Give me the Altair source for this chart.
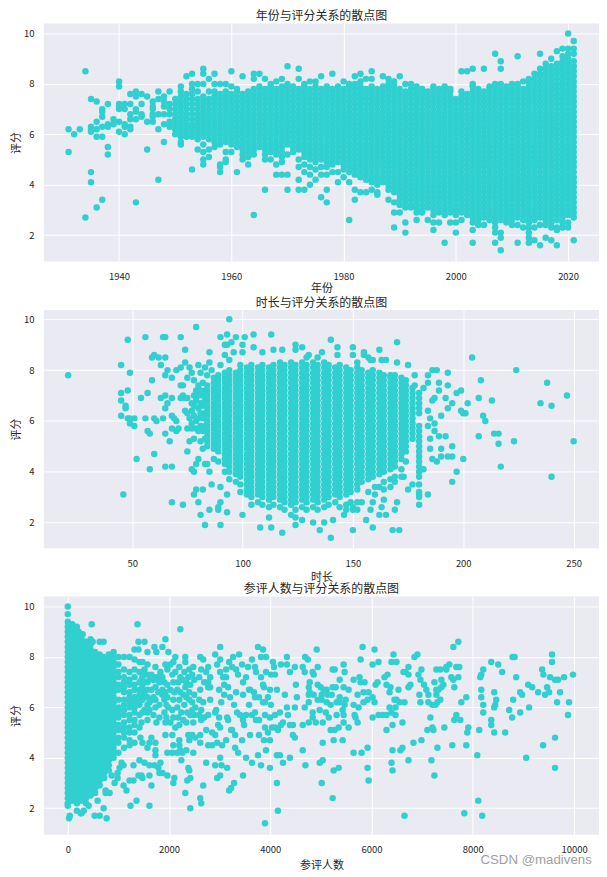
import altair as alt
import pandas as pd

# Inside the saturated blobs single dots cannot be told apart, so those columns are estimates.
year_rating = [
(1931,[62,53]),(1932,[60]),(1933,[62]),(1934,[85,27]),(1935,[74,63,62,61,45,41]),
(1936,[73,65,62,59,31]),(1937,[70,69,67,63,59,34]),(1938,[72,64,63,55,52]),(1939,[66,64]),
(1940,[81,79,72,71,70,65,61]),(1941,[72,70,64,63,60]),(1942,[76,72,68,66,63,62]),
(1943,[77,75,70,69,66,33]),(1944,[76,72,68,67]),(1945,[75,65,54]),(1946,[73,71,70,68,67,65]),
(1947,[77,74,68,62,42]),(1948,[75,73,71,68,64,57]),(1949,[77,72,70,68,65,63]),
(1950,[74,72,70,68,66,64,62,60]),(1951,[79,77,75,73,71,69,67,65,63,61,59,57,56]),
(1952,[83,76,74,72,70,68,66,64,62,60,59]),(1953,[84,80,78,76,74,72,70,68,66,64,63,61,59,46]),
(1954,[80,77,74,72,70,68,66,64,62,60,58,54]),(1955,[86,84,80,75,73,71,69,67,65,63,61,59,56,53,50,48]),
(1956,[82,77,74,72,70,68,66,64,62,60,58,54,51]),(1957,[84,80,77,75,73,71,69,67,65,63,61,59,57,55]),
(1958,[80,76,74,72,70,68,66,64,62,60,58,56,48,47,45]),(1959,[80,77,75,73,71,69,67,65,63,61,59,57,53,50,49]),
(1960,[85,79,76,74,72,70,68,66,64,62,60,58,56,53]),(1961,[78,77,75,73,71,69,67,65,63,61,59,57,55,45]),
(1962,[83,76,74,72,70,68,66,64,62,60,58,56,54,52,50]),
(1963,[77,75,73,71,69,67,65,63,61,59,57,55,53,51,48]),
(1964,[84,82,78,76,74,72,70,68,66,64,62,60,58,56,54,52,28]),
(1965,[84,79,77,75,73,71,69,67,65,63,61,59,57,55]),
(1966,[82,78,76,74,72,70,68,66,64,62,60,58,56,54,52,50,38]),
(1967,[80,79,77,75,73,71,69,67,65,63,61,59,57,55,53,50]),
(1968,[81,78,76,74,72,70,68,66,64,62,60,58,56,54,52,48,44]),
(1969,[82,79,77,75,73,71,69,67,65,63,61,59,57,55,53,51,49,44]),
(1970,[87,80,78,76,74,72,70,68,66,64,62,60,58,56,52,44,38]),
(1971,[79,77,75,73,71,69,67,65,63,61,59,57,55,53]),
(1972,[86,82,78,76,74,72,70,68,66,64,62,60,58,56,54,50,47,42,38]),
(1973,[80,79,77,75,73,71,69,67,65,63,61,59,57,55,53,51,48,45,38]),
(1974,[81,78,76,74,72,70,68,66,64,62,60,58,56,54,52,50,47,44,40]),
(1975,[81,79,77,75,73,71,69,67,65,63,61,59,57,55,53,51,49,46,42]),
(1976,[83,78,76,74,72,70,68,66,64,62,60,58,56,54,52,50,47,44,35]),
(1977,[79,77,75,73,71,69,67,65,63,61,59,57,55,53,51,49,47,44,38,33]),
(1978,[84,78,76,74,72,70,68,66,64,62,60,58,56,54,52,50,48,45]),
(1979,[79,77,75,73,71,69,67,65,63,61,59,57,55,53,51,49,45,41]),
(1980,[81,78,76,74,72,70,68,66,64,62,60,58,56,54,52,50,48,46,43]),
(1981,[80,79,77,75,73,71,69,67,65,63,61,59,57,55,53,51,49,47,45,41,26]),
(1982,[83,80,78,76,74,72,70,68,66,64,62,60,58,56,54,52,50,48,46,44,38,34]),
(1983,[84,81,79,77,75,73,71,69,67,65,63,61,59,57,55,53,51,49,47,45,43,37]),
(1984,[82,78,76,74,72,70,68,66,64,62,60,58,56,54,52,50,48,46,44,42,37]),
(1985,[85,82,79,77,75,73,71,69,67,65,63,61,59,57,55,53,51,49,47,45,43,41,38]),
(1986,[78,76,74,72,70,68,66,64,62,60,58,56,54,52,50,48,46,44,42,40,37,36]),
(1987,[83,79,77,75,73,71,69,67,65,63,61,59,57,55,53,51,49,47,45,43,41]),
(1988,[82,80,78,76,74,72,70,68,66,64,62,60,58,56,54,52,50,48,46,44,42,40,38,34]),
(1989,[81,79,77,75,73,71,69,67,65,63,61,59,57,55,53,51,49,47,45,43,41,39,37,33,29,23]),
(1990,[83,78,76,74,72,70,68,66,64,62,60,58,56,54,52,50,48,46,44,42,40,38,36,34,32,29]),
(1991,[80,77,75,73,71,69,67,65,63,61,59,57,55,53,51,49,47,45,43,41,39,37,35,33,31,25,21]),
(1992,[80,78,76,74,72,70,68,66,64,62,60,58,56,54,52,50,48,46,44,42,40,38,36,34,32,31]),
(1993,[79,77,75,73,71,69,67,65,63,61,59,57,55,53,51,49,47,45,43,41,39,37,35,33,31,29,26]),
(1994,[78,76,74,72,70,68,66,64,62,60,58,56,54,52,50,48,46,44,42,40,38,36,34,32,30,29]),
(1995,[77,75,73,71,69,67,65,63,61,59,57,55,53,51,49,47,45,43,41,39,37,35,33,31,26]),
(1996,[79,78,76,74,72,70,68,66,64,62,60,58,56,54,52,50,48,46,44,42,40,38,36,34,32,30,28,25,22]),
(1997,[78,77,75,73,71,69,67,65,63,61,59,57,55,53,51,49,47,45,43,41,39,37,35,33,31,29,25]),
(1998,[79,78,76,74,72,70,68,66,64,62,60,58,56,54,52,50,48,46,44,42,40,38,36,34,32,30,28,17]),
(1999,[78,77,75,73,71,69,67,65,63,61,59,57,55,53,51,49,47,45,43,41,39,37,35,33,31,29,25]),
(2000,[74,72,70,68,66,64,62,60,58,56,54,52,50,48,46,44,42,40,38,36,34,32,30,28,25,21]),
(2001,[85,77,75,73,71,69,67,65,63,61,59,57,55,53,51,49,47,45,43,41,39,37,35,33,31,29,26]),
(2002,[85,76,74,72,70,68,66,64,62,60,58,56,54,52,50,48,46,44,42,40,38,36,34,32,30,28]),
(2003,[86,80,79,77,75,73,71,69,67,65,63,61,59,57,55,53,51,49,47,45,43,41,39,37,35,33,31,29,27,25,22,17]),
(2004,[78,76,74,72,70,68,66,64,62,60,58,56,54,52,50,48,46,44,42,40,38,36,34,32,30,28,26,24]),
(2005,[86,77,75,73,71,69,67,65,63,61,59,57,55,53,51,49,47,45,43,41,39,37,35,33,31,29,27,24]),
(2006,[79,78,76,74,72,70,68,66,64,62,60,58,56,54,52,50,48,46,44,42,40,38,36,34,32,30,28,26]),
(2007,[92,80,79,77,75,73,71,69,67,65,63,61,59,57,55,53,51,49,47,45,43,41,39,37,35,33,31,29,27,25,23,21,17]),
(2008,[89,86,80,78,76,74,72,70,68,66,64,62,60,58,56,54,52,50,48,46,44,42,40,38,36,34,32,30,28,26,21,19,14]),
(2009,[79,77,75,73,71,69,67,65,63,61,59,57,55,53,51,49,47,45,43,41,39,37,35,33,31,29,27,25]),
(2010,[80,78,76,74,72,70,68,66,64,62,60,58,56,54,52,50,48,46,44,42,40,38,36,34,32,30,28,26,24]),
(2011,[91,80,79,77,75,73,71,69,67,65,63,61,59,57,55,53,51,49,47,45,43,41,39,37,35,33,31,29,27,24,17]),
(2012,[81,78,76,74,72,70,68,66,64,62,60,58,56,54,52,50,48,46,44,42,40,38,36,34,32,30,28,26,23]),
(2013,[82,81,79,77,75,73,71,69,67,65,63,61,59,57,55,53,51,49,47,45,43,41,39,37,35,33,31,29,27,25,23,21,19,17]),
(2014,[84,82,80,78,76,74,72,70,68,66,64,62,60,58,56,54,52,50,48,46,44,42,40,38,36,34,32,30,28,26,23,18]),
(2015,[92,86,84,83,81,79,77,75,73,71,69,67,65,63,61,59,57,55,53,51,49,47,45,43,41,39,37,35,33,31,29,27,24,16]),
(2016,[88,86,84,82,80,78,76,74,72,70,68,66,64,62,60,58,56,54,52,50,48,46,44,42,40,38,36,34,32,30,28,26,24,19]),
(2017,[90,87,85,83,81,79,77,75,73,71,69,67,65,63,61,59,57,55,53,51,49,47,45,43,41,39,37,35,33,31,29,27,25,23,18]),
(2018,[93,88,86,84,82,80,78,76,74,72,70,68,66,64,62,60,58,56,54,52,50,48,46,44,42,40,38,36,34,32,30,28,26,23,22,16]),
(2019,[94,91,89,87,85,83,81,79,77,75,73,71,69,67,65,63,61,59,57,55,53,51,49,47,45,43,41,39,37,35,33,31,29,27,25,23]),
(2020,[100,94,92,90,88,86,84,82,80,78,76,74,72,70,68,66,64,62,60,58,56,54,52,50,48,46,44,42,40,38,36,34,32,30,28,25,23]),
(2021,[97,94,92,89,87,85,83,81,79,77,75,73,71,69,67,65,63,61,59,57,55,53,51,49,47,45,43,41,39,37,35,33,31,29,27,18]),
]

runtime_rating = [
(21,[78]),(45,[82,71,68,62]),(46,[31]),(47,[66,65]),(48,[92,72,61]),(49,[79,61,59]),(51,[61,58]),(52,[45]),
(54,[69]),(56,[93,61]),(57,[71,56]),(58,[55,41]),(59,[85,76]),(60,[86,61,47]),(61,[60]),(62,[85]),
(63,[82,69]),(64,[93,61]),(65,[93,85,78,70,65,55,42]),(66,[80,67]),(67,[52]),(68,[77,69,62,57,42,28]),
(69,[61]),(70,[80,60,56]),(71,[57]),(72,[93,81,74,69]),(73,[74,70,27]),(74,[88,83,69,64]),(75,[77,69,63,57,48]),
(76,[81,61,52]),(77,[79,67,64,59,57,41]),(78,[76,70,66,62,53,40,31]),(79,[97,72,68,60,57,43,33]),
(80,[82,74,70,65,61,56,45,28]),(81,[79,72,67,63,58,52,23]),
(82,[75,70,66,61,56,49,33]),(83,[81,72,68,63,58,53,43,19]),(84,[78,74,72,70,68,66,64,62,60,58,56,54,52,50,43]),(85,[87,83,40,25]),(86,[80,35]),
(87,[77,75,73,71,69,67,65,63,61,59,57,55,53,51,49,45]),(89,[78,76,74,72,70,68,66,64,62,60,58,56,54,52,50,48,44,26,25]),
(90,[93,82,34,28,19]),(92,[90,86,79,77,75,73,71,69,67,65,63,61,59,57,55,53,51,49,47,45,43,40]),(93,[94,90,31,24]),
(94,[100,84,80,78,76,74,72,70,68,66,64,62,60,58,56,54,52,50,48,46,44,42,40,37]),(95,[91]),(96,[87]),
(97,[93,79,77,75,73,71,69,67,65,63,61,59,57,55,53,51,49,47,45,43,41,39,36]),
(99,[82,80,78,76,74,72,70,68,66,64,62,60,58,56,54,52,50,48,46,44,42,40,38,35,32]),(100,[90,87,23]),(101,[93]),
(102,[81,79,77,75,73,71,69,67,65,63,61,59,57,55,53,51,49,47,45,43,41,39,37,35,33,31]),
(104,[82,80,78,76,74,72,70,68,66,64,62,60,58,56,54,52,50,48,46,44,42,40,38,36,34,32,30,27]),(105,[94,89]),
(107,[81,79,77,75,73,71,69,67,65,63,61,59,57,55,53,51,49,47,45,43,41,39,37,35,33,31,28]),(108,[18]),
(109,[87,82,80,78,76,74,72,70,68,66,64,62,60,58,56,54,52,50,48,46,44,42,40,38,36,34,32,30,27]),
(112,[81,79,77,75,73,71,69,67,65,63,61,59,57,55,53,51,49,47,45,43,41,39,37,35,33,31,29,26,22]),(113,[94,18]),
(114,[88,82,80,78,76,74,72,70,68,66,64,62,60,58,56,54,52,50,48,46,44,42,40,38,36,34,32,30,27]),
(117,[83,81,79,77,75,73,71,69,67,65,63,61,59,57,55,53,51,49,47,45,43,41,39,37,35,33,31,29,26]),(118,[88,16]),
(119,[82,80,78,76,74,72,70,68,66,64,62,60,58,56,54,52,50,48,46,44,42,40,38,36,34,32,30,28,25]),
(122,[83,81,79,77,75,73,71,69,67,65,63,61,59,57,55,53,51,49,47,45,43,41,39,37,35,33,31,29,27,23]),
(124,[90,88,82,80,78,76,74,72,70,68,66,64,62,60,58,56,54,52,50,48,46,44,42,40,38,36,34,32,30,28,25,22,19]),
(127,[89,83,81,79,77,75,73,71,69,67,65,63,61,59,57,55,53,51,49,47,45,43,41,39,37,35,33,31,29,26,21]),
(129,[85,82,80,78,76,74,72,70,68,66,64,62,60,58,56,54,52,50,48,46,44,42,40,38,36,34,32,30,28,25]),(130,[86]),
(132,[83,81,79,77,75,73,71,69,67,65,63,61,59,57,55,53,51,49,47,45,43,41,39,37,35,33,31,29,26,20]),
(134,[85,82,80,78,76,74,72,70,68,66,64,62,60,58,56,54,52,50,48,46,44,42,40,38,36,34,32,30,28,25]),(135,[17]),(136,[87]),
(137,[83,81,79,77,75,73,71,69,67,65,63,61,59,57,55,53,51,49,47,45,43,41,39,37,35,33,31,29,26,20]),
(139,[82,80,78,76,74,72,70,68,66,64,62,60,58,56,54,52,50,48,46,44,42,40,38,36,34,32,30,27]),(140,[92,14]),(141,[21]),
(142,[81,79,77,75,73,71,69,67,65,63,61,59,57,55,53,51,49,47,45,43,41,39,37,35,33,31,28]),(143,[89,86]),
(144,[82,80,78,76,74,72,70,68,66,64,62,60,58,56,54,52,50,48,46,44,42,40,38,36,34,32,30,26]),(146,[23]),
(147,[81,79,77,75,73,71,69,67,65,63,61,59,57,55,53,51,49,47,45,43,41,39,37,35,33,31,27,25]),
(149,[80,78,76,74,72,70,68,66,64,62,60,58,56,54,52,50,48,46,44,42,40,38,36,34,32,28]),(150,[89,86,17,26,25]),
(152,[83,81,79,77,75,73,71,69,67,65,63,61,59,57,55,53,51,49,47,45,43,41,39,37,35,33,28,25]),
(154,[80,78,76,74,72,70,68,66,64,62,60,58,56,54,52,50,48,46,44,42,40,38,36,28]),(155,[87,86]),(156,[21]),
(157,[85,79,77,75,73,71,69,67,65,63,61,59,57,55,53,51,49,47,45,43,41,39,37,32]),(158,[84,25]),
(159,[84,80,78,76,74,72,70,68,66,64,62,60,58,56,54,52,50,48,46,44,42,40,38,28,18]),(160,[34,31]),
(162,[88,79,77,75,73,71,69,67,65,63,61,59,57,55,53,51,49,47,45,43,41,39,34,23]),(163,[84,26]),
(164,[78,76,74,72,70,68,66,64,62,60,58,56,54,52,50,48,46,44,42,40,36,33,29]),(165,[84,23]),
(167,[78,77,75,73,71,69,67,65,63,61,59,57,55,53,51,49,47,45,43,41,37,34]),(168,[17]),
(169,[78,76,74,72,70,68,66,64,62,60,58,56,54,52,50,48,46,44,42,38,36,25]),(170,[91,83,28]),(171,[17]),
(172,[77,75,73,71,69,67,65,63,61,59,57,55,53,51,49,47,45,41,38]),(173,[38]),
(174,[76,74,72,70,68,66,64,62,60,58,56,54,52,50,48,44]),(175,[82,33]),(177,[73,71,69,67,65,63,61,59,57,55,53,35]),
(178,[78,74]),(180,[71,69,67,65,63,58,56,54,52,50,48,46,44,42,40,38,35,32,31,30,27]),
(182,[73,41]),(184,[78,75,64,58,31]),(185,[61,53,49]),(186,[80,68,45]),(187,[69,59,56]),(188,[80,44]),
(189,[75,72,54]),(190,[62,49,46]),(192,[69,54]),(193,[79,74,65,46]),(195,[67,50,46,36]),(197,[71,40]),
(199,[72,64]),(200,[63,45]),(201,[63]),(202,[67]),(204,[85]),(207,[69,54]),(208,[76]),(209,[62]),(210,[60]),
(213,[68]),(214,[55]),(216,[55,51]),(217,[42]),(223,[52]),(224,[80]),(235,[67]),(238,[75]),(240,[66,38]),
(247,[70]),(250,[52]),
]

voters_rating = [
(0,[100,97,94,92,90,88,86,84,82,80,78,76,74,72,70,68,66,64,62,60,58,56,54,52,50,48,46,44,42,40,38,36,34,32,30,28,26,24,22,21]),
(26,[16]),(39,[17]),
(90,[93,91,89,87,85,83,81,79,77,75,73,71,69,67,65,63,61,59,57,55,53,51,49,47,45,43,41,39,37,35,33,31,29,27,25,23]),
(180,[92,90,88,86,84,82,80,78,76,74,72,70,68,66,64,62,60,58,56,54,52,50,48,46,44,42,40,38,36,34,32,30,28,26,24,22,19]),
(216,[90]),(256,[18]),
(270,[89,87,85,83,81,79,77,75,73,71,69,67,65,63,61,59,57,55,53,51,49,47,45,43,41,39,37,35,33,31,29,27,25,23,18]),
(295,[89]),(315,[19]),(334,[86]),
(360,[86,84,82,80,78,76,74,72,70,68,66,64,62,60,58,56,54,52,50,48,46,44,42,40,38,36,34,32,30,28,26,24,22]),
(413,[21]),(450,[87,85,83,81,79,77,75,73,71,69,67,65,63,61,59,57,55,53,51,49,47,45,43,41,39,37,35,33,31,29,27,25]),
(472,[93]),(492,[86]),(531,[17]),
(540,[82,80,78,76,74,72,70,68,66,64,62,60,58,56,54,52,50,48,46,44,42,40,38,36,34,32,30,28,26]),(590,[23]),
(630,[86,81,79,77,75,73,71,69,67,65,63,61,59,57,55,53,51,49,47,45,43,41,39,37,35,33,31,29,17]),
(708,[86,80,20]),(720,[78,76,74,72,70,68,66,64,62,60,58,56,54,52,50,48,46,44,42,40,38,36,34,32]),
(748,[27,26]),(767,[16]),(810,[81,79,77,75,73,71,69,67,65,63,61,59,57,55,53,51,49,47,45,43,41,39,37,35]),(826,[26]),
(865,[33]),(905,[82,80,78,76,74,72,70,68,66,64,62,60,58,56,54,52,50,48,46,44,42,40]),(925,[30]),(984,[34,32]),
(1000,[80,77,74,72,69,67,63,60,58,56,53,51,48,46,42]),(1023,[36]),(1062,[38]),(1102,[37,29]),
(1110,[80,75,72,70,68,66,63,61,59,57,54,52,50,48,44]),(1160,[27]),(1220,[80,74,71,69,66,64,62,60,57,55,52,50,47,45,31]),(1239,[21]),
(1298,[37,31]),(1318,[83,79,75,72,69,67,64,62,60,58,55,53,50,46]),(1357,[23]),(1377,[93]),(1396,[86,83,33]),
(1416,[78,74,70,67,65,63,61,57,52,39]),(1436,[48]),(1456,[71,54,33]),(1475,[78,74,72,69,67,63,58,46,32]),(1515,[86,75,70,65,59,38]),
(1574,[82,77,73,70,67,64,61,58,55,44]),(1613,[71,62,59,46,37,33,21]),(1652,[73,67,63,48,29]),(1692,[71,64,57]),(1711,[84,71,37]),
(1731,[76,68,63,60,46,43,41]),(1751,[82,72,54]),(1790,[72,66,36]),(1810,[70,61,56,34]),(1830,[74,38]),(1869,[84,72,67,65,34]),
(1908,[70,63,58]),(1928,[87,77,66,54,49]),(1948,[61,56]),(1967,[75,69,64,42,33]),(1987,[82,60]),(2026,[77,67,54]),
(2065,[73,59,49,42]),(2085,[78,70,63,56,45,30]),(2105,[32,66]),(2125,[80,74,52]),(2164,[67,60,42]),(2184,[70,56]),
(2203,[76,63,53,47,45]),(2223,[91,72,66,43]),(2243,[39,58]),(2262,[71,42]),(2282,[65,55]),(2302,[74,61]),(2321,[80,78,68,26]),
(2341,[70,64,54,43]),(2360,[58,31]),(2380,[72,49,36]),(2400,[75,66,63,47,35]),(2420,[69,57,32,20]),(2459,[73,62,59,49]),
(2479,[76,54,42]),(2498,[71,65,57]),(2518,[48,60]),(2597,[72,63,57]),(2616,[80,67,49,46,24]),(2636,[75,59,55,22]),
(2675,[79,62,29]),(2695,[70,56]),(2734,[74,51,38]),(2774,[76,70,68,57,45]),(2813,[72,68,63]),(2852,[50,45]),
(2911,[81,58,49,37]),(2931,[59]),(2951,[77,46,32]),(2970,[53]),(2990,[67,56]),(3010,[84,79,74,52,40,33]),
(3030,[62]),(3036,[37]),(3049,[45]),(3069,[72]),(3089,[69,65]),(3128,[75,72,47]),(3148,[56,36]),
(3167,[68,55]),(3187,[78,27]),(3207,[64]),(3226,[51,28]),(3246,[76,51]),(3265,[80]),(3285,[61,30]),
(3305,[49,44]),(3325,[75,66]),(3344,[58]),(3364,[73,42]),(3384,[81]),(3403,[57]),(3443,[77,47]),
(3462,[70,65,55,33]),(3482,[53]),(3521,[72,57,40]),(3561,[76]),(3580,[67,61]),(3600,[67,49]),
(3639,[79,57,38]),(3678,[66]),(3698,[76,64,58]),(3718,[74,55]),(3757,[84,41]),(3777,[64,55,49]),
(3816,[80,72,37]),(3856,[83,69,62]),(3875,[68,47]),(3895,[62,57,52,14]),(3915,[80,74,43]),(3954,[64,50]),
(3993,[67,56,47,36]),(4013,[73,61]),(4033,[52]),(4052,[78]),(4072,[76]),(4092,[73,57,52]),(4131,[67,41,30]),
(4150,[51,19]),(4190,[58,41]),(4210,[77,53]),(4250,[54,38]),(4288,[65]),(4328,[80,77,60]),(4348,[57]),
(4387,[74,53,40]),(4446,[53,49]),(4485,[76,60,48]),(4505,[69]),(4525,[64]),
(4640,[76,53,43]),(4680,[74,60]),(4687,[80]),(4694,[37]),(4740,[79]),(4760,[68,65,62,54]),(4778,[70,66]),
(4837,[74]),(4838,[58,56]),(4857,[73,65]),(4897,[54]),(4917,[83]),(4936,[76,69,63]),(4975,[59]),(4976,[38]),
(4995,[68]),(5015,[65,63,30]),(5035,[54,46,39]),(5054,[67]),(5096,[58]),(5113,[67,62]),(5133,[65]),(5154,[56]),
(5192,[61,51]),(5212,[65]),(5232,[75,68,24]),(5251,[47,35]),(5271,[75,51]),(5291,[68]),(5310,[62,57]),
(5350,[52,36]),(5370,[71,64,62]),(5429,[59,47]),(5448,[77,68,57,54]),(5468,[74,61]),(5488,[63]),(5547,[67,52]),
(5645,[71,61,42]),(5665,[57]),(5684,[56]),(5724,[65,54]),(5744,[60]),(5763,[72]),(5783,[79,70]),(5803,[42]),
(5823,[84]),(5841,[66,62]),(5861,[70]),(5921,[63,44,36]),(5941,[66,31]),(6020,[77,64,56]),(6059,[83,62]),
(6079,[69]),(6118,[70]),(6138,[78,57]),(6217,[57]),(6256,[72]),(6295,[69,57,51]),(6315,[73]),(6355,[66,60]),
(6374,[68]),(6394,[78,58,38]),(6414,[53,43,35]),(6433,[81]),(6453,[63]),(6473,[60,57]),(6492,[78,63]),
(6532,[67]),(6552,[62]),(6571,[43]),(6611,[54,44]),(6630,[74]),(6650,[62,17]),(6670,[74]),(6729,[76,73,68,39]),
(6768,[69]),(6827,[46]),(6847,[80]),(6906,[81]),(6926,[73]),(6945,[65]),(6965,[71,62]),(6985,[75,47]),
(7037,[69]),(7083,[67]),(7103,[51]),(7123,[65,62]),(7162,[56]),(7182,[39]),(7202,[61,52]),(7221,[51]),
(7241,[70,33]),(7261,[61]),(7280,[75,67,65]),(7300,[62,44]),(7320,[67]),(7359,[75,63]),(7379,[71,68]),
(7418,[69]),(7438,[52]),(7477,[76,75]),(7536,[77]),(7576,[72]),(7595,[45]),(7615,[84,71]),(7634,[68,55]),
(7674,[76,57]),(7714,[86,72]),(7733,[76]),(7753,[55]),(7773,[62]),(7832,[18]),(7871,[64,45]),(7891,[50]),
(7911,[52]),(8088,[41]),(8108,[23]),(8127,[51]),(8147,[72]),(8167,[73,67,64]),(8186,[17]),(8206,[75,61,58]),
(8364,[78,55,53]),(8423,[66,60,50]),(8443,[61]),(8462,[63]),(8502,[77]),(8580,[74]),(8640,[50]),(8718,[59]),
(8777,[56]),(8784,[80]),(8797,[63]),(8825,[80]),(8856,[72]),(8935,[66,58]),(8974,[65]),(9054,[40]),(9093,[69]),
(9112,[60]),(9172,[68]),(9290,[66]),(9370,[75]),(9388,[45]),(9394,[73]),(9427,[65]),(9467,[68]),(9506,[66]),
(9526,[72]),(9565,[81,78]),(9624,[71,48,36]),(9664,[62]),(9683,[71]),(9723,[66]),(9802,[72]),(9880,[57]),
(9900,[62]),(9979,[73]),
]

year_ticks = [1940, 1960, 1980, 2000, 2020]
runtime_ticks = [50, 100, 150, 200, 250]
voter_ticks = [0, 2000, 4000, 6000, 8000, 10000]
rating_ticks = [2, 4, 6, 8, 10]

DOT = "#30D0D0"
INK = "#262626"
CJK = "Noto Sans CJK SC"


def table(columns):
    return pd.DataFrame(
        [{"x": x, "y": r / 10} for x, rs in columns for r in rs]
    )


def panel(columns, title, xtitle, domain, ticks, ydomain, pad):
    return (
        alt.Chart(table(columns))
        .mark_circle(size=42, opacity=1, color=DOT)
        .encode(
            x=alt.X(
                "x:Q",
                title=xtitle,
                scale=alt.Scale(domain=domain, nice=False, zero=False),
                axis=alt.Axis(values=ticks, format="d", titlePadding=pad),
            ),
            y=alt.Y(
                "y:Q",
                title="评分",
                scale=alt.Scale(domain=ydomain, nice=False, zero=False),
                axis=alt.Axis(values=rating_ticks),
            ),
        )
        .properties(
            width=557,
            height=239,
            title=alt.TitleParams(title, fontSize=12, fontWeight="normal", font=CJK, color=INK, offset=0),
        )
    )


top = panel(year_rating, "年份与评分关系的散点图", "年份", [1926.6, 2025.5], year_ticks, [0.95, 10.4], 2)
mid = panel(runtime_rating, "时长与评分关系的散点图", "时长", [10, 261.5], runtime_ticks, [0.99, 10.37], 4)
low = panel(voters_rating, "参评人数与评分关系的散点图", "参评人数", [-472, 10492], voter_ticks, [0.95, 10.4], 5)

mark = (
    alt.Chart(pd.DataFrame({"t": ["CSDN @madivens"]}))
    .mark_text(align="left", baseline="middle", fontSize=13.3, font="Liberation Sans", color="#A0A0A0")
    .encode(x=alt.value(438), y=alt.value(264), text="t:N")
)

chart = (
    alt.vconcat(top, mid, low + mark, spacing=48.5, bounds="flush")
    .properties(padding={"left": 2, "top": 1, "right": 0, "bottom": 0})
    .configure_view(fill="#EAEAF2", stroke=None)
    .configure_axis(
        grid=True,
        gridColor="#FFFFFF",
        gridWidth=1,
        domain=False,
        ticks=False,
        labelFont=CJK,
        labelFontSize=9.5,
        labelColor=INK,
        labelPadding=10,
        titleFont=CJK,
        titleFontSize=11,
        titleFontWeight="normal",
        titleColor=INK,
    )
    .configure_axisY(labelPadding=10, titlePadding=2)
)

chart.save("out.html", embed_options={"renderer": "svg", "actions": False})
